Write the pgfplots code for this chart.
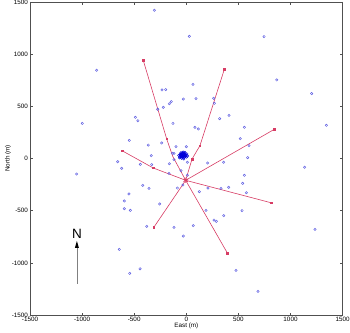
\documentclass[border=0pt]{standalone}
\usepackage{fontspec}
\setmainfont{Liberation Sans}
\usepackage{pgfplots}
\pgfplotsset{compat=1.18}
\definecolor{bluec}{RGB}{90,90,225}
\definecolor{redl}{RGB}{215,60,100}
\definecolor{axgray}{RGB}{80,80,80}
\begin{document}
\begin{tikzpicture}
\path[use as bounding box] (-30pt,-17pt) rectangle (320pt,315pt);
\begin{axis}[
  at={(0pt,0pt)}, anchor=south west,
  width=312.6pt, height=313pt, scale only axis,
  xmin=-1500, xmax=1500, ymin=-1500, ymax=1500,
  xtick={-1500,-1000,...,1500}, ytick={-1500,-1000,...,1500},
  tick align=inside, major tick length=2.5pt,
  axis line style={axgray, line width=0.6pt},
  tick style={axgray, line width=0.4pt},
  /pgf/number format/assume math mode=true,
  /pgf/number format/1000 sep={},
  ticklabel style={font=\fontsize{6.3}{7}\selectfont},
  label style={font=\fontsize{6.3}{7}\selectfont},
  xticklabel style={yshift=1pt},
  yticklabel style={xshift=1.5pt},
  xlabel={East (m)}, ylabel={North (m)},
  xlabel style={yshift=6pt},
  ylabel style={yshift=-6pt},
  clip=false,
]
% red lines
\addplot[redl, line width=0.6pt] coordinates {(-6,-209) (-130,20) (-188,187) (-413,941)};
\addplot[redl, line width=0.6pt] coordinates {(-6,-209) (55,-5) (131,123) (365,855)};
\addplot[redl, line width=0.6pt] coordinates {(-6,-209) (845,280)};
\addplot[redl, line width=0.6pt] coordinates {(-6,-209) (813,-424)};
\addplot[redl, line width=0.6pt] coordinates {(-6,-209) (394,-906)};
\addplot[redl, line width=0.6pt] coordinates {(-6,-209) (-310,-657)};
\addplot[redl, line width=0.6pt] coordinates {(-6,-209) (-317,-91) (-617,75)};
% blue stations
\addplot[only marks, mark=o, mark size=1.2pt, bluec, mark options={line width=0.45pt}] coordinates {
(-307,1421) (29,1171) (746,1168) (-860,846) (868,753) (64,711) (-233,657) (-198,660)
(1203,622) (-29,570) (93,573) (263,577) (269,529) (-163,525) (-144,545) (-221,491)
(-274,472) (-489,395) (-464,362) (-998,337) (-128,337) (320,382) (410,414) (1344,318)
(83,299) (115,283) (557,299) (518,190) (-547,174) (-236,149) (-365,129) (602,123)
(-99,113) (0,113) (-336,27) (589,8) (-658,-31) (-441,-56) (-332,-59) (-163,-50)
(-118,-11) (10,-36) (205,-43) (359,-36) (-620,-94) (1136,-84) (-1052,-149) (-166,-142)
(-51,-117) (10,-161) (557,-161) (541,-238) (-32,-254) (-86,-283) (125,-318) (208,-283)
(333,-286) (407,-276) (576,-328) (-418,-257) (-358,-286) (-550,-340) (-595,-407) (-595,-481)
(-537,-497) (-255,-436) (189,-497) (535,-500) (266,-590) (288,-602) (359,-548) (-380,-650)
(-118,-660) (67,-644) (-29,-743) (-643,-871) (-444,-1057) (-543,-1101) (477,-1072) (688,-1273)
(1235,-679) (-134,50) (-118,50)
};
% dense cluster
\addplot[only marks, mark=o, mark size=1.2pt, blue!85!black, mark options={line width=0.5pt}] coordinates {
(-51,37) (-44,30) (-37,41) (-30,34) (-23,37) (-41,23) (-34,27) (-27,20) (-20,27) (-48,16)
(-55,27) (-58,41) (-37,51) (-23,51) (-13,44) (-6,34) (-9,20) (-16,13) (-37,13) (-62,16)
(-72,30) (5,44) (-30,62) (-51,55) (-44,2) (-23,-5) (2,13) (-65,6) (12,23) (-13,58)
(-40,30) (-25,40) (-15,30) (-35,20) (-50,45) (-20,15)
};
% red markers
\addplot[only marks, mark=square*, mark size=0.7pt, redl] coordinates {
(-413,941) (365,855) (845,280) (813,-424) (394,-906) (-310,-657) (-617,75)
(-188,187) (131,123) (55,-5) (-317,-91)
};
\addplot[only marks, mark=asterisk, mark size=2.6pt, redl, mark options={line width=0.7pt}] coordinates {(-6,-209)};
% north arrow
\draw[gray, line width=0.6pt] (axis cs:-1050,-1200) -- (axis cs:-1050,-850);
\fill[black] (axis cs:-1050,-790) -- ([xshift=-2pt,yshift=-7pt]axis cs:-1050,-790) -- ([xshift=2pt,yshift=-7pt]axis cs:-1050,-790) -- cycle;
\node[font=\fontsize{13.5}{14}\selectfont] at (axis cs:-1050,-720) {N};
\end{axis}
\end{tikzpicture}
\end{document}
